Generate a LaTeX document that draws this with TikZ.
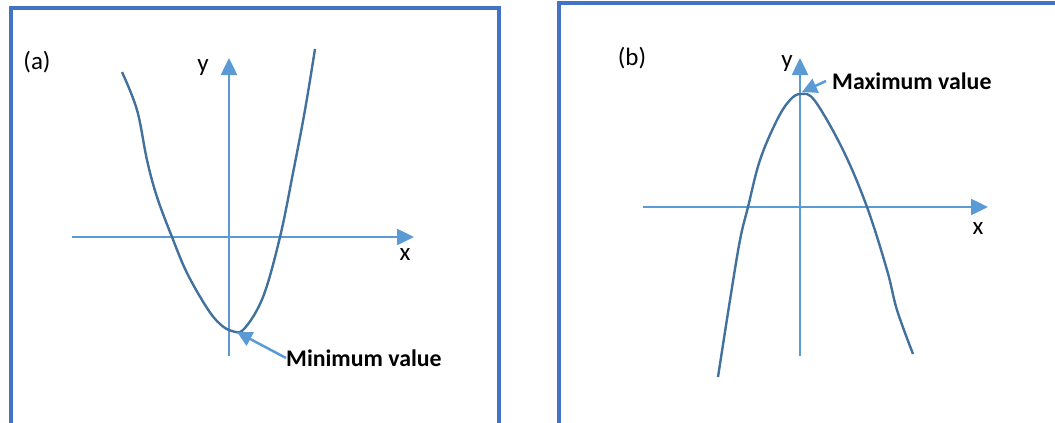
\documentclass[tikz,border=0pt]{standalone}
\usepackage{fontspec}
\setmainfont{Carlito}
\usetikzlibrary{arrows.meta}
\definecolor{frame}{HTML}{4472C4}
\definecolor{axis}{HTML}{5B9BD5}
\definecolor{curve}{HTML}{41719C}
\tikzset{
  framebox/.style={draw=frame,line width=3.5pt},
  axisline/.style={draw=axis,line width=2.5pt,-{Triangle[length=17pt,width=16pt]}},
  curveline/.style={draw=curve,line width=2.4pt},
  lbl/.style={inner sep=0pt,font=\fontsize{25}{29}\selectfont},
  note/.style={inner sep=0pt,anchor=west,font=\bfseries\fontsize{23.8}{27}\selectfont},
  pointer/.style={draw=axis,line width=2.5pt,-{Triangle[length=15pt,width=15pt]}}
}
\begin{document}
\begin{tikzpicture}[x=1pt,y=-1pt]
\useasboundingbox (0,0) rectangle (1055,423);
% frames
\draw[framebox] (11,440) -- (11,8) -- (499,8) -- (499,440);
\draw[framebox] (559,440) -- (559,3) -- (1070,3);
% panel (a)
\coordinate (ax0) at (72,237);
\coordinate (ax1) at (414,237);
\coordinate (ay0) at (229,356);
\coordinate (ay1) at (229,58);
\draw[axisline] (ax0) -- (ax1);
\draw[axisline] (ay0) -- (ay1);
\node[lbl] (ya) at (203,68) {y};
\node[lbl] (xa) at (405,255) {x};
\node[lbl] (la) at (37,62) {(a)};
\draw[curveline] plot[smooth,tension=0.6] coordinates {(122,72) (137,110) (147,160) (157,197) (172,237) (187,273) (207,308) (220,324) (232,331) (244,329) (263,297) (280,237) (293,173) (305,110) (315,49)};
\coordinate (mina) at (237,332);
\node[note] (mintxt) at (286,358) {Minimum value};
\draw[pointer] (mintxt.west) -- (mina);
% panel (b)
\coordinate (bx0) at (643,207);
\coordinate (bx1) at (988,207);
\coordinate (by0) at (800,356);
\coordinate (by1) at (800,58);
\draw[axisline] (bx0) -- (bx1);
\draw[axisline] (by0) -- (by1);
\node[lbl] (yb) at (787,64) {y};
\node[lbl] (xb) at (978,229) {x};
\node[lbl] (lb) at (632,58) {(b)};
\draw[curveline] plot[smooth,tension=0.6] coordinates {(718,377) (730,300) (740,240) (748,207) (760,160) (777,120) (790,100) (801,94) (815,101) (843,150) (867,207) (887,270) (897,310) (913,354)};
\coordinate (maxb) at (802,92);
\node[note] (maxtxt) at (832,81) {Maximum value};
\draw[pointer] ([xshift=-6pt]maxtxt.west) -- (maxb);
\end{tikzpicture}
\end{document}
